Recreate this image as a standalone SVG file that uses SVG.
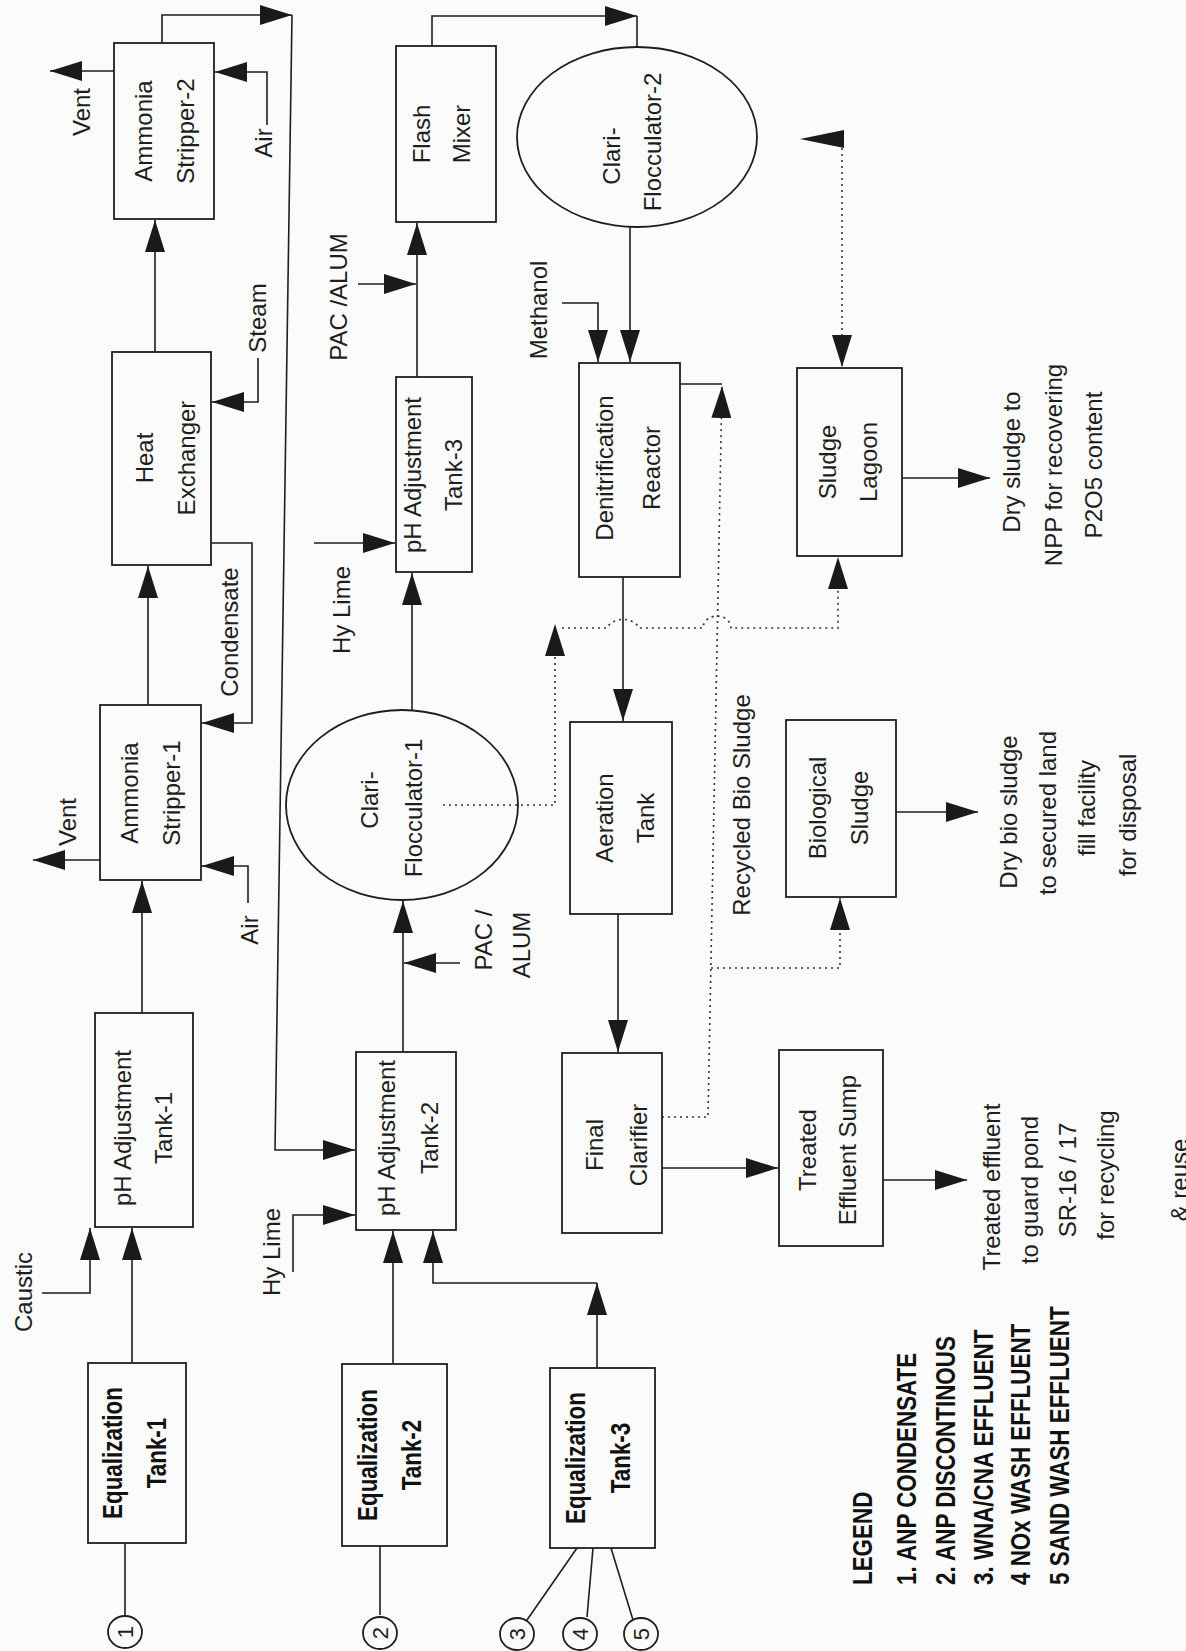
<svg xmlns="http://www.w3.org/2000/svg" width="1186" height="1651" viewBox="0 0 1186 1651">
<style>
.box{fill:none;stroke:#1e1e1e;stroke-width:1.8}
.ln{fill:none;stroke:#1e1e1e;stroke-width:1.6}
.dt{fill:none;stroke:#333;stroke-width:1.6;stroke-dasharray:2 4}
.t{font-family:"Liberation Sans",Arial,sans-serif;font-size:24px;fill:#1e1e1e;text-anchor:middle}
.b{font-family:"Liberation Sans",Arial,sans-serif;font-size:28px;font-weight:bold;fill:#111;text-anchor:middle}
.lg{font-family:"Liberation Sans",Arial,sans-serif;font-size:28px;font-weight:bold;fill:#111;text-anchor:start}
.n{font-family:"Liberation Sans",Arial,sans-serif;font-size:22px;fill:#1e1e1e;text-anchor:middle}
.ah{fill:#1a1a1a}
</style>
<defs>
<marker id="a" viewBox="0 0 32 20" refX="32" refY="10" markerWidth="32" markerHeight="20" markerUnits="userSpaceOnUse" orient="auto">
<path d="M0,0 L32,10 L0,20 Z" fill="#1a1a1a"/>
</marker>
</defs>
<rect x="0" y="0" width="1186" height="1651" fill="#fbfbfb"/>

<g id="connectors">
<!-- column A -->
<path class="ln" d="M125,1615 V1543"/>
<path class="ln" d="M132,1363 V1228" marker-end="url(#a)"/>
<path class="ln" d="M42,1293 H90 V1228" marker-end="url(#a)"/>
<path class="ln" d="M142,1013 V881" marker-end="url(#a)"/>
<path class="ln" d="M100,860 H33" marker-end="url(#a)"/>
<path class="ln" d="M248,903 V866 H202" marker-end="url(#a)"/>
<path class="ln" d="M148,705 V566" marker-end="url(#a)"/>
<path class="ln" d="M211,543 H252 V723 H202" marker-end="url(#a)"/>
<path class="ln" d="M155,352 V220" marker-end="url(#a)"/>
<path class="ln" d="M258,358 V402 H212" marker-end="url(#a)"/>
<path class="ln" d="M114,71 H50" marker-end="url(#a)"/>
<path class="ln" d="M267,125 V72 H215" marker-end="url(#a)"/>
<path class="ln" d="M162,43 V15 H292" marker-end="url(#a)"/>
<path class="ln" d="M292,15 L275,1150 H355" marker-end="url(#a)"/>
<!-- column B -->
<path class="ln" d="M380,1615 V1546"/>
<path class="ln" d="M393,1364 V1231" marker-end="url(#a)"/>
<path class="ln" d="M293,1272 V1215 H355" marker-end="url(#a)"/>
<path class="ln" d="M597,1368 V1283" marker-end="url(#a)"/>
<path class="ln" d="M597,1283 H433 V1231" marker-end="url(#a)"/>
<path class="ln" d="M403,1052 V901" marker-end="url(#a)"/>
<path class="ln" d="M460,963 H404" marker-end="url(#a)"/>
<path class="ln" d="M412,710 V573" marker-end="url(#a)"/>
<path class="ln" d="M314,543 H395" marker-end="url(#a)"/>
<path class="ln" d="M417,377 V223" marker-end="url(#a)"/>
<path class="ln" d="M358,284 H416" marker-end="url(#a)"/>
<path class="ln" d="M432,46 V16 H637" marker-end="url(#a)"/>
<path class="ln" d="M637,16 V47"/>
<path class="ln" d="M577,1548 L527,1620"/>
<path class="ln" d="M593,1548 L587,1617"/>
<path class="ln" d="M611,1548 L633,1620"/>
<!-- column C -->
<path class="ln" d="M630,227 V362" marker-end="url(#a)"/>
<path class="ln" d="M562,303 H598 V362" marker-end="url(#a)"/>
<path class="ln" d="M623,577 V721" marker-end="url(#a)"/>
<path class="ln" d="M618,914 V1052" marker-end="url(#a)"/>
<path class="ln" d="M662,1168 H778" marker-end="url(#a)"/>
<path class="ln" d="M680,384 H722"/>
<path class="dt" d="M662,1117 H708 L722,386" marker-end="url(#a)"/>
<path class="dt" d="M443,805 H555 V624" marker-end="url(#a)"/>
<path class="dt" d="M562,628 H607 A17,13 0 0 1 639,628 H703 A14,12 0 0 1 731,628 H838 V557" marker-end="url(#a)"/>
<path class="dt" d="M711,968 H840 V898" marker-end="url(#a)"/>
<!-- column D -->
<path class="dt" d="M842,142 V367" marker-end="url(#a)"/>
<polygon class="ah" points="800,139 844,130 844,148"/>
<path class="ln" d="M902,478 H990" marker-end="url(#a)"/>
<path class="ln" d="M896,812 H978" marker-end="url(#a)"/>
<path class="ln" d="M883,1180 H967" marker-end="url(#a)"/>
</g>

<g id="labels">
<text class="t" transform="translate(32,1292) rotate(-90)">Caustic</text>
<text class="t" transform="translate(76,822) rotate(-90)">Vent</text>
<text class="t" transform="translate(258,930) rotate(-90)">Air</text>
<text class="t" transform="translate(238,632) rotate(-90)">Condensate</text>
<text class="t" transform="translate(266,318) rotate(-90)">Steam</text>
<text class="t" transform="translate(90,112) rotate(-90)">Vent</text>
<text class="t" transform="translate(272,143) rotate(-90)">Air</text>
<text class="t" transform="translate(347,297) rotate(-90)">PAC /ALUM</text>
<text class="t" transform="translate(350,610) rotate(-90)">Hy Lime</text>
<text class="t" transform="translate(280,1252) rotate(-90)">Hy Lime</text>
<text class="t" transform="translate(492,940) rotate(-90)">PAC /</text>
<text class="t" transform="translate(530,945) rotate(-90)">ALUM</text>
<text class="t" transform="translate(547,310) rotate(-90)">Methanol</text>
<text class="t" transform="translate(750,805) rotate(-90)">Recycled Bio Sludge</text>
<text class="t" transform="translate(1020,462) rotate(-90)">Dry sludge to</text>
<text class="t" transform="translate(1062,465) rotate(-90)">NPP for recovering</text>
<text class="t" transform="translate(1102,465) rotate(-90)">P2O5 content</text>
<text class="t" transform="translate(1017,812) rotate(-90)">Dry bio sludge</text>
<text class="t" transform="translate(1056,813) rotate(-90)">to secured land</text>
<text class="t" transform="translate(1095,808) rotate(-90)">fill facility</text>
<text class="t" transform="translate(1136,815) rotate(-90)">for disposal</text>
<text class="t" transform="translate(1000,1187) rotate(-90)">Treated effluent</text>
<text class="t" transform="translate(1038,1190) rotate(-90)">to guard pond</text>
<text class="t" transform="translate(1076,1180) rotate(-90)">SR-16 / 17</text>
<text class="t" transform="translate(1114,1175) rotate(-90)">for recycling</text>
<text class="t" transform="translate(1188,1180) rotate(-90)">&amp; reuse</text>
</g>

<g id="legend">
<text class="lg" transform="translate(872,1585) rotate(-90) scale(0.8,1)">LEGEND</text>
<text class="lg" transform="translate(916,1585) rotate(-90) scale(0.8,1)">1. ANP CONDENSATE</text>
<text class="lg" transform="translate(955,1585) rotate(-90) scale(0.8,1)">2. ANP DISCONTINOUS</text>
<text class="lg" transform="translate(993,1585) rotate(-90) scale(0.8,1)">3. WNA/CNA EFFLUENT</text>
<text class="lg" transform="translate(1030,1585) rotate(-90) scale(0.8,1)">4  NOx WASH EFFLUENT</text>
<text class="lg" transform="translate(1069,1585) rotate(-90) scale(0.8,1)">5  SAND WASH EFFLUENT</text>
</g>

<g id="stripper2"><rect class="box" x="114" y="43" width="100" height="176"/>
<text class="t" transform="translate(152,131) rotate(-90)">Ammonia</text>
<text class="t" transform="translate(194,131) rotate(-90)">Stripper-2</text></g>
<g id="heat-exchanger"><rect class="box" x="112" y="352" width="99" height="213"/>
<text class="t" transform="translate(153,458) rotate(-90)">Heat</text>
<text class="t" transform="translate(195,458) rotate(-90)">Exchanger</text></g>
<g id="stripper1"><rect class="box" x="100" y="705" width="101" height="175"/>
<text class="t" transform="translate(138,793) rotate(-90)">Ammonia</text>
<text class="t" transform="translate(180,793) rotate(-90)">Stripper-1</text></g>
<g id="ph1"><rect class="box" x="95" y="1013" width="98" height="214"/>
<text class="t" transform="translate(131,1128) rotate(-90)">pH Adjustment</text>
<text class="t" transform="translate(172,1128) rotate(-90)">Tank-1</text></g>
<g id="eq1"><rect class="box" x="88" y="1363" width="98" height="180"/>
<text class="b" transform="translate(122,1453) rotate(-90) scale(0.8,1)">Equalization</text>
<text class="b" transform="translate(166,1453) rotate(-90) scale(0.8,1)">Tank-1</text></g>
<g id="src1"><ellipse class="box" cx="125" cy="1632" rx="17" ry="16"/>
<text class="n" transform="translate(133,1632) rotate(-90)">1</text></g>

<g id="flash-mixer"><rect class="box" x="396" y="46" width="100" height="176"/>
<text class="t" transform="translate(430,134) rotate(-90)">Flash</text>
<text class="t" transform="translate(470,134) rotate(-90)">Mixer</text></g>
<g id="ph3"><rect class="box" x="396" y="377" width="76" height="195"/>
<text class="t" transform="translate(421,475) rotate(-90)">pH Adjustment</text>
<text class="t" transform="translate(462,475) rotate(-90)">Tank-3</text></g>
<g id="clariflocculator1"><ellipse class="box" cx="402" cy="805" rx="116" ry="95"/>
<text class="t" transform="translate(378,800) rotate(-90)">Clari-</text>
<text class="t" transform="translate(422,808) rotate(-90)">Flocculator-1</text></g>
<g id="ph2"><rect class="box" x="356" y="1052" width="100" height="178"/>
<text class="t" transform="translate(395,1138) rotate(-90)">pH Adjustment</text>
<text class="t" transform="translate(438,1138) rotate(-90)">Tank-2</text></g>
<g id="eq2"><rect class="box" x="342" y="1364" width="105" height="182"/>
<text class="b" transform="translate(377,1455) rotate(-90) scale(0.8,1)">Equalization</text>
<text class="b" transform="translate(421,1455) rotate(-90) scale(0.8,1)">Tank-2</text></g>
<g id="src2"><ellipse class="box" cx="380" cy="1633" rx="17" ry="16"/>
<text class="n" transform="translate(388,1633) rotate(-90)">2</text></g>
<g id="eq3"><rect class="box" x="550" y="1368" width="105" height="180"/>
<text class="b" transform="translate(585,1458) rotate(-90) scale(0.8,1)">Equalization</text>
<text class="b" transform="translate(630,1458) rotate(-90) scale(0.8,1)">Tank-3</text></g>
<g id="src3"><ellipse class="box" cx="517" cy="1634" rx="17" ry="16"/>
<text class="n" transform="translate(525,1634) rotate(-90)">3</text></g>
<g id="src4"><ellipse class="box" cx="580" cy="1634" rx="17" ry="16"/>
<text class="n" transform="translate(588,1634) rotate(-90)">4</text></g>
<g id="src5"><ellipse class="box" cx="641" cy="1634" rx="17" ry="16"/>
<text class="n" transform="translate(649,1634) rotate(-90)">5</text></g>

<g id="clariflocculator2"><ellipse class="box" cx="637" cy="137" rx="120" ry="90"/>
<text class="t" transform="translate(620,156) rotate(-90)">Clari-</text>
<text class="t" transform="translate(661,142) rotate(-90)">Flocculator-2</text></g>
<g id="denitrification"><rect class="box" x="579" y="363" width="101" height="214"/>
<text class="t" transform="translate(613,468) rotate(-90)">Denitrification</text>
<text class="t" transform="translate(660,468) rotate(-90)">Reactor</text></g>
<g id="aeration"><rect class="box" x="570" y="722" width="102" height="192"/>
<text class="t" transform="translate(613,818) rotate(-90)">Aeration</text>
<text class="t" transform="translate(654,818) rotate(-90)">Tank</text></g>
<g id="final-clarifier"><rect class="box" x="562" y="1053" width="100" height="180"/>
<text class="t" transform="translate(603,1145) rotate(-90)">Final</text>
<text class="t" transform="translate(647,1145) rotate(-90)">Clarifier</text></g>

<g id="sludge-lagoon"><rect class="box" x="797" y="368" width="105" height="188"/>
<text class="t" transform="translate(836,462) rotate(-90)">Sludge</text>
<text class="t" transform="translate(877,462) rotate(-90)">Lagoon</text></g>
<g id="bio-sludge"><rect class="box" x="786" y="720" width="110" height="177"/>
<text class="t" transform="translate(826,808) rotate(-90)">Biological</text>
<text class="t" transform="translate(868,808) rotate(-90)">Sludge</text></g>
<g id="treated-sump"><rect class="box" x="779" y="1050" width="104" height="196"/>
<text class="t" transform="translate(816,1150) rotate(-90)">Treated</text>
<text class="t" transform="translate(856,1150) rotate(-90)">Effluent Sump</text></g>
</svg>
